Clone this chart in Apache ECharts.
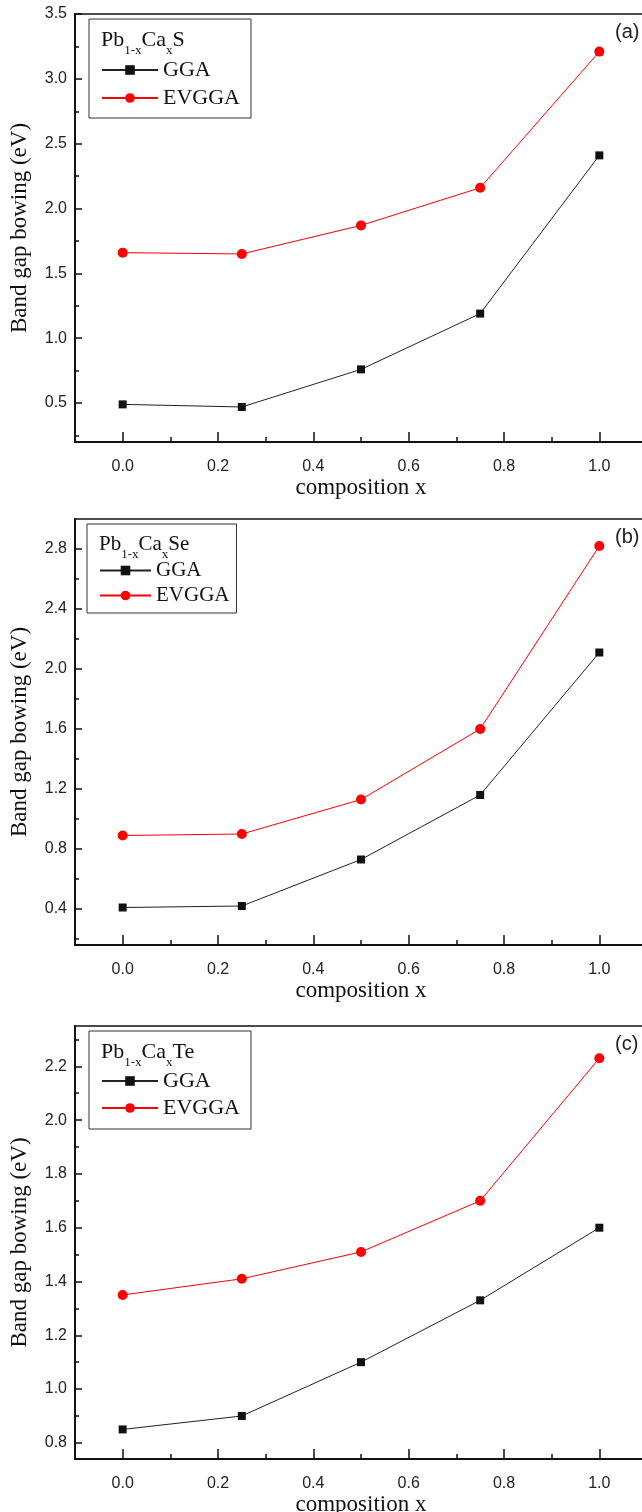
<!DOCTYPE html>
<html><head><meta charset="utf-8">
<script src="https://cdn.jsdelivr.net/npm/echarts@6/dist/echarts.min.js"></script>
<style>html,body{margin:0;padding:0;background:#fff}#c{width:642px;height:1512px}</style>
</head><body><div id="c"></div>
<script>
// x positions (composition x)
const composition = [0, 0.25, 0.5, 0.75, 1.0];
// Panel (a) Pb1-xCaxS
const ggaS = [0.49, 0.47, 0.76, 1.19, 2.41];
const evggaS = [1.66, 1.65, 1.87, 2.16, 3.21];
// Panel (b) Pb1-xCaxSe
const ggaSe = [0.41, 0.42, 0.73, 1.16, 2.11];
const evggaSe = [0.89, 0.90, 1.13, 1.60, 2.82];
// Panel (c) Pb1-xCaxTe
const ggaTe = [0.85, 0.90, 1.10, 1.33, 1.60];
const evggaTe = [1.35, 1.41, 1.51, 1.70, 2.23];
// tick labels
const xMajorTicks = [0, 0.2, 0.4, 0.6, 0.8, 1.0];
const xMinorTicks = [0.1, 0.3, 0.5, 0.7, 0.9];
const yMajorS = [0.5, 1.0, 1.5, 2.0, 2.5, 3.0, 3.5];
const yMinorS = [0.25, 0.75, 1.25, 1.75, 2.25, 2.75, 3.25];
const yMajorSe = [0.4, 0.8, 1.2, 1.6, 2.0, 2.4, 2.8];
const yMinorSe = [0.2, 0.6, 1.0, 1.4, 1.8, 2.2, 2.6];
const yMajorTe = [0.8, 1.0, 1.2, 1.4, 1.6, 1.8, 2.0, 2.2];
const yMinorTe = [0.9, 1.1, 1.3, 1.5, 1.7, 1.9, 2.1, 2.3];
const panelLabels = ['(a)', '(b)', '(c)'];
const compounds = ['S', 'Se', 'Te'];
const seriesNames = ['GGA', 'EVGGA'];

const panels = [
  {gga: ggaS, ev: evggaS, yMin: 0.2, yMax: 3.5, major: yMajorS, minor: yMinorS, top: 14, height: 428,
   leg: {left: 89, top: 19, pad: [40, 11, 9, 12], fs: 22, gap: 6, iw: 56}, titleY: 23},
  {gga: ggaSe, ev: evggaSe, yMin: 0.16, yMax: 3.0, major: yMajorSe, minor: yMinorSe, top: 519, height: 426,
   leg: {left: 87, top: 524, pad: [36, 7, 7, 12], fs: 21, gap: 4, iw: 51}, titleY: 527},
  {gga: ggaTe, ev: evggaTe, yMin: 0.74, yMax: 2.35, major: yMajorTe, minor: yMinorTe, top: 1026, height: 433,
   leg: {left: 89, top: 1031, pad: [39, 11, 10, 12], fs: 22, gap: 5, iw: 56}, titleY: 1035}
];

const serif = 'Liberation Serif';
const sans = 'Liberation Sans';
const grids = [], xAxes = [], yAxes = [], series = [], legends = [], titles = [], graphics = [];

panels.forEach((p, i) => {
  grids.push({left: 75, top: p.top, width: 572, height: p.height, show: true, outerBoundsMode: 'none',
    containLabel: false, borderColor: '#111', borderWidth: 1.5, backgroundColor: 'transparent'});
  xAxes.push({type: 'value', gridIndex: i, min: -0.1, max: 1.1,
    name: 'composition x', nameLocation: 'middle', nameGap: 34,
    nameTextStyle: {fontFamily: serif, fontSize: 23, color: '#111'},
    axisLine: {show: true, onZero: false, lineStyle: {color: '#111', width: 2}},
    axisTick: {show: true, inside: true, length: 10, customValues: xMajorTicks, lineStyle: {color: '#111', width: 1.5}},
    axisLabel: {show: true, customValues: xMajorTicks, margin: 17, fontFamily: sans, fontSize: 16, color: '#222',
      formatter: v => v.toFixed(1)},
    splitLine: {show: false}});
  yAxes.push({type: 'value', gridIndex: i, min: p.yMin, max: p.yMax,
    name: 'Band gap bowing (eV)', nameLocation: 'middle', nameGap: 44, nameRotate: 90,
    nameTextStyle: {fontFamily: serif, fontSize: 23, color: '#111'},
    axisLine: {show: true, onZero: false, lineStyle: {color: '#111', width: 2}},
    axisTick: {show: true, inside: true, length: 7, customValues: p.major, lineStyle: {color: '#111', width: 1.5}},
    axisLabel: {show: true, customValues: p.major, margin: 8, fontFamily: sans, fontSize: 16, color: '#222',
      formatter: v => v.toFixed(1)},
    splitLine: {show: false}});
  series.push({name: 'GGA', type: 'line', xAxisIndex: i, yAxisIndex: i,
    data: composition.map((x, k) => [x, p.gga[k]]),
    symbol: 'rect', symbolSize: 8, lineStyle: {color: '#222', width: 1}, itemStyle: {color: '#111'},
    emphasis: {disabled: true}, z: 3});
  series.push({name: 'EVGGA', type: 'line', xAxisIndex: i, yAxisIndex: i,
    data: composition.map((x, k) => [x, p.ev[k]]),
    symbol: 'circle', symbolSize: 10, lineStyle: {color: '#ff0000', width: 1}, itemStyle: {color: '#ff0000'},
    emphasis: {disabled: true}, z: 3});
  legends.push({data: seriesNames, orient: 'vertical', left: p.leg.left, top: p.leg.top,
    padding: p.leg.pad, itemWidth: p.leg.iw, itemHeight: 12, itemGap: p.leg.gap,
    borderColor: '#333', borderWidth: 1, selectedMode: false,
    textStyle: {fontFamily: serif, fontSize: p.leg.fs, color: '#111'}});
  titles.push({text: panelLabels[i], left: 615, top: p.top + 8, padding: 0,
    textStyle: {fontFamily: sans, fontSize: 20, fontWeight: 'normal', color: '#222'}});
  graphics.push({type: 'text', x: p.leg.left + 12, y: p.titleY, z: 10,
    style: {text: '{n|Pb}{s|1-x}{n|Ca}{s|x}{n|' + compounds[i] + '}',
      rich: {
        n: {fontFamily: serif, fontSize: p.leg.fs, lineHeight: 34, verticalAlign: 'middle', fill: '#111'},
        s: {fontFamily: serif, fontSize: 13, lineHeight: 34, verticalAlign: 'bottom', fill: '#111'}
      }}});
});

// minor tick axes
panels.forEach((p, i) => {
  xAxes.push({type: 'value', gridIndex: i, min: -0.1, max: 1.1, position: 'bottom',
    axisLine: {show: false, onZero: false},
    axisTick: {show: true, inside: true, length: 5, customValues: xMinorTicks, lineStyle: {color: '#111', width: 1.5}},
    axisLabel: {show: false}, splitLine: {show: false}});
  yAxes.push({type: 'value', gridIndex: i, min: p.yMin, max: p.yMax, position: 'left',
    axisLine: {show: false, onZero: false},
    axisTick: {show: true, inside: true, length: 4, customValues: p.minor, lineStyle: {color: '#111', width: 1.5}},
    axisLabel: {show: false}, splitLine: {show: false}});
});

const chart = echarts.init(document.getElementById('c'), null, {renderer: 'canvas'});
chart.setOption({
  animation: false,
  backgroundColor: '#fff',
  title: titles,
  legend: legends,
  grid: grids,
  xAxis: xAxes,
  yAxis: yAxes,
  series: series,
  graphic: graphics
});
</script></body></html>
